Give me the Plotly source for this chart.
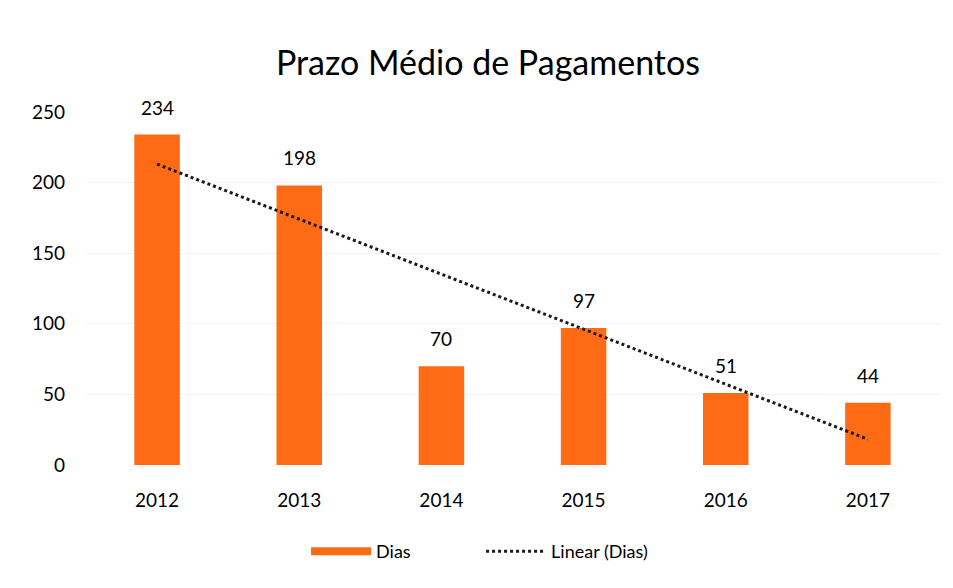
import numpy as np
import plotly.graph_objects as go

# Average payment period (days) per year
anos = ["2012", "2013", "2014", "2015", "2016", "2017"]
dias = [234, 198, 70, 97, 51, 44]

# Linear trend fitted on the yearly values
idx = np.arange(1, len(dias) + 1)
coef = np.polyfit(idx, dias, 1)
tendencia = np.polyval(coef, idx)

FONT = "Lato"
LARANJA = "#FF6A14"
TXT = "#000000"

fig = go.Figure()

fig.add_trace(go.Bar(
    x=anos, y=dias,
    marker=dict(color=LARANJA, line=dict(width=0)),
    showlegend=False,
    name="Dias",
))

# Legend-only entry with a wide swatch for the bars
fig.add_trace(go.Scatter(
    x=[anos[0]], y=[None], mode="lines",
    line=dict(color=LARANJA, width=8),
    name="Dias",
))

fig.add_trace(go.Scatter(
    x=anos, y=tendencia, mode="lines",
    line=dict(color="#1a1a1a", width=3, dash="dot"),
    name="Linear (Dias)",
))

# Value labels above each bar
for i, v in enumerate(dias):
    fig.add_annotation(
        x=i, y=v, xref="x", yref="y", text=str(v), showarrow=False,
        yanchor="bottom", yshift=14,
        font=dict(family=FONT, size=19, color=TXT),
    )

fig.update_layout(
    width=953, height=588,
    paper_bgcolor="white", plot_bgcolor="white",
    margin=dict(l=86, r=14, t=112, b=123),
    title=dict(
        text="Prazo Médio de Pagamentos",
        x=0.512, xanchor="center", y=0.893, yanchor="middle",
        font=dict(family=FONT, size=34, color=TXT),
    ),
    bargap=0.68,
    font=dict(family=FONT, color=TXT),
    legend=dict(
        orientation="h", x=0.258, xanchor="left", y=-0.245, yanchor="middle",
        font=dict(family=FONT, size=18, color=TXT),
        entrywidth=100, entrywidthmode="pixels", itemwidth=60,
    ),
    xaxis=dict(
        type="category", categoryorder="array", categoryarray=anos,
        range=[-0.5, len(anos) - 0.5],
        showgrid=False, showline=False, zeroline=False,
        tickfont=dict(family=FONT, size=19, color=TXT),
        ticklabelstandoff=22,
    ),
    yaxis=dict(
        range=[0, 250], tickvals=[0, 50, 100, 150, 200, 250],
        showgrid=True, gridcolor="#f3f3f3", zeroline=False, showline=False,
        tickfont=dict(family=FONT, size=19, color=TXT),
        ticklabelstandoff=20,
    ),
)

fig.write_html("out.html")
